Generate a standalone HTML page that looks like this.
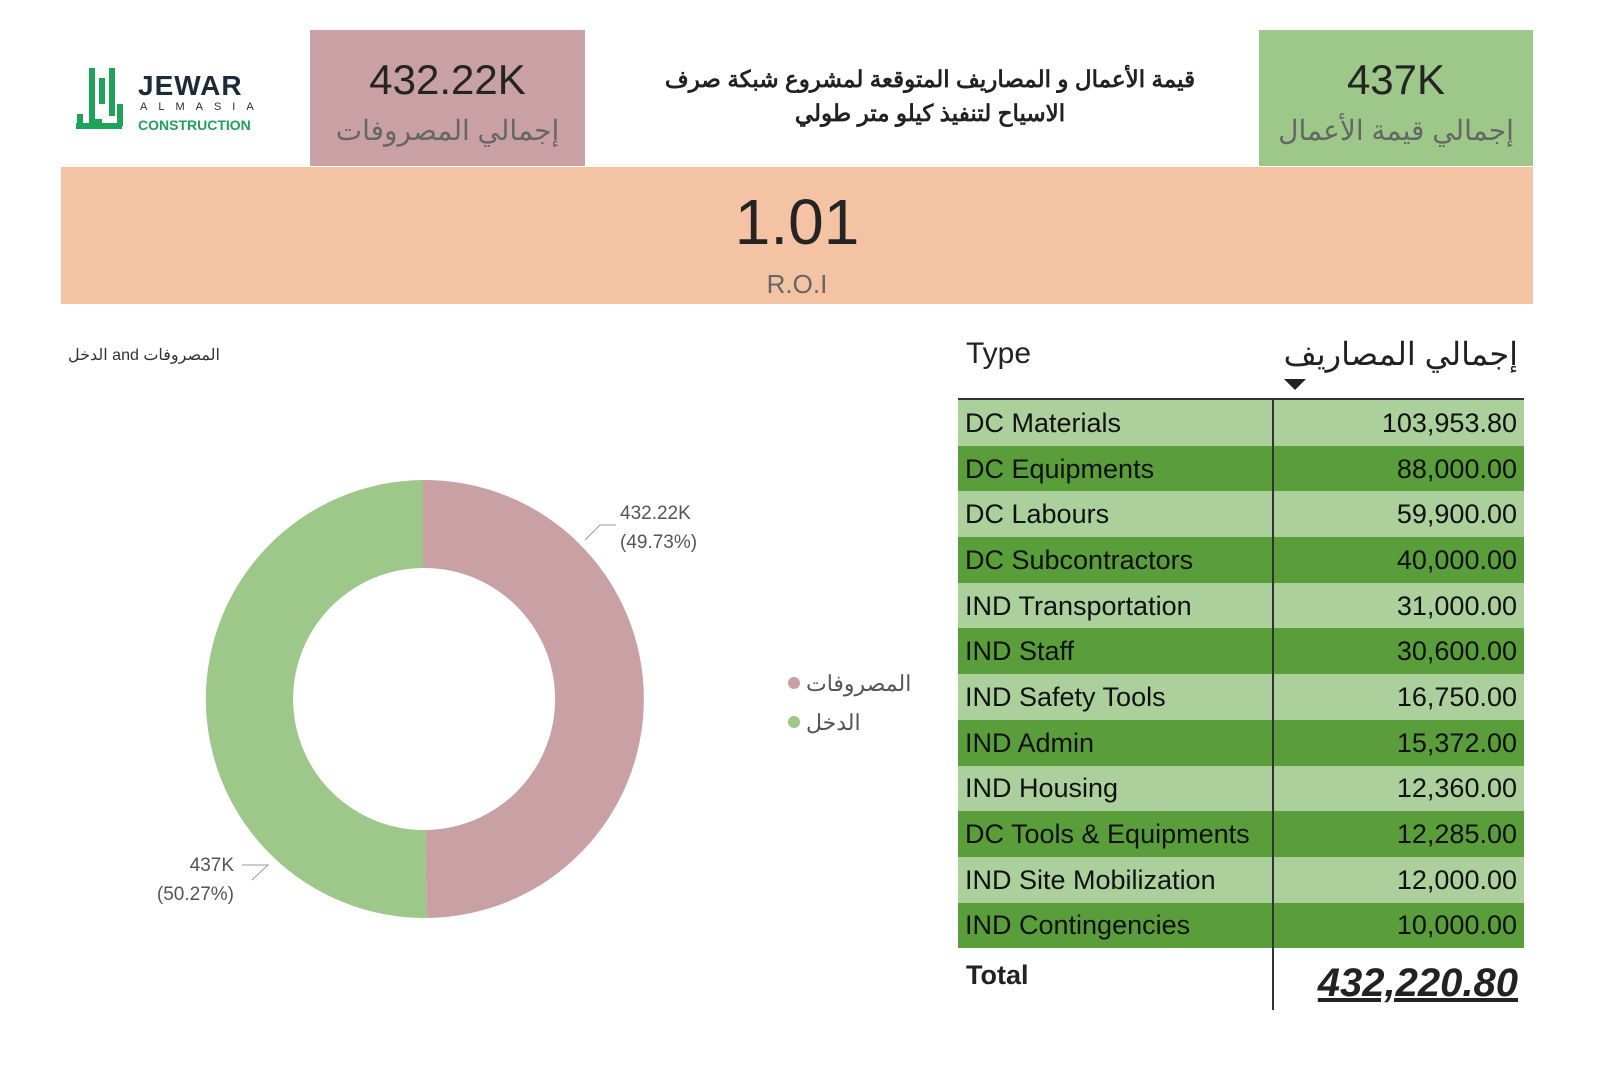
<!DOCTYPE html>
<html><head><meta charset="utf-8"><style>
*{margin:0;padding:0;box-sizing:border-box}
body{width:1600px;height:1080px;background:#fff;position:relative;font-family:"Liberation Sans","Noto Sans CJK SC",sans-serif;overflow:hidden;color:#222}
.abs{position:absolute}
.kpi{position:absolute;text-align:center}
.kpi .v{font-size:42px;color:#252423;position:absolute;width:100%;top:26px}
.kpi .l{font-size:28px;color:#666;position:absolute;width:100%;top:84px}
table{position:absolute;left:958px;top:400px;width:566px;border-collapse:collapse;font-size:27px;line-height:30px}
td{height:45.7px;padding:0 7px;color:#111}
td.n{text-align:right;border-left:2px solid #333}
tr.a td{background:#abd09c}
tr.b td{background:#5a9e3c}
</style></head><body>
<div class="abs" style="left:72px;top:64px;width:54px;height:70px">
<svg width="54" height="70"><path d="M20 4 L20 58 L30 58 M30 14 L30 40 M40 4 L40 52 M4 62 L50 62 M8 50 L8 62 M48 40 L48 62" stroke="#1fa35a" stroke-width="6" fill="none"/></svg></div>
<div class="abs" style="left:138px;top:70px;font-size:28px;font-weight:bold;color:#1d2a3a;letter-spacing:1px">JEWAR</div>
<div class="abs" style="left:140px;top:101px;font-size:11px;color:#1d2a3a;letter-spacing:11px">ALMASIA</div>
<div class="abs" style="left:138px;top:117px;font-size:14px;color:#1fa35a;font-weight:bold">CONSTRUCTION</div>
<div class="kpi" style="left:310px;top:30px;width:275px;height:136px;background:#c9a1a5"><div class="v">432.22K</div><div class="l">إجمالي المصروفات</div></div>
<div class="kpi" style="left:1259px;top:30px;width:274px;height:136px;background:#9dc88a"><div class="v">437K</div><div class="l">إجمالي قيمة الأعمال</div></div>
<div class="abs" style="left:600px;top:62px;width:660px;text-align:center;font-size:23px;font-weight:bold;line-height:34px;direction:rtl">قيمة الأعمال و المصاريف المتوقعة لمشروع شبكة صرف<br>الاسياح لتنفيذ كيلو متر طولي</div>
<div class="abs" style="left:61px;top:167px;width:1472px;height:137px;background:#f4c3a3;text-align:center">
<div style="font-size:64px;color:#252423;margin-top:18px;line-height:74px">1.01</div>
<div style="font-size:26px;color:#666;margin-top:10px">R.O.I</div></div>
<div class="abs" style="left:68px;top:345px;font-size:16px;color:#333">الدخل and المصروفات</div>
<svg class="abs" style="left:0;top:0" width="960" height="1080">
<g transform="translate(-3,-2)">
<path d="M426 482 A219 219 0 0 1 429.7 920 L428.2 832 A131 131 0 0 0 426 570 Z" fill="#c9a1a5"/>
<path d="M429.7 920 A219 219 0 1 1 426 482 L426 570 A131 131 0 1 0 428.2 832 Z" fill="#9dc88a"/>
</g>
<polyline points="585,540 600,525 616,525" fill="none" stroke="#999"/>
<polyline points="252,880 268,865 242,865" fill="none" stroke="#999"/>
<text x="620" y="519" font-size="19" fill="#555" font-family="Liberation Sans">432.22K</text>
<text x="620" y="548" font-size="19" fill="#555" font-family="Liberation Sans">(49.73%)</text>
<text x="234" y="871" font-size="19" fill="#555" text-anchor="end" font-family="Liberation Sans">437K</text>
<text x="234" y="900" font-size="19" fill="#555" text-anchor="end" font-family="Liberation Sans">(50.27%)</text>
<circle cx="794" cy="683" r="6" fill="#c9a1a5"/><circle cx="794" cy="722" r="6" fill="#9dc88a"/>
<text x="806" y="691" font-size="22" fill="#555" font-family="Liberation Sans,Noto Sans CJK SC">المصروفات</text>
<text x="806" y="730" font-size="22" fill="#555" font-family="Liberation Sans,Noto Sans CJK SC">الدخل</text>
</svg>
<div class="abs" style="left:966px;top:337px;font-size:30px">Type</div>
<div class="abs" style="left:1270px;top:335px;width:248px;text-align:right;font-size:32px;direction:rtl">إجمالي المصاريف</div>
<div class="abs" style="left:1284px;top:379px;width:0;height:0;border-left:11px solid transparent;border-right:11px solid transparent;border-top:11px solid #222"></div>
<div class="abs" style="left:958px;top:398px;width:566px;height:2px;background:#333"></div>
<table>
<tr class="a"><td style="width:315px">DC Materials</td><td class="n">103,953.80</td></tr>
<tr class="b"><td>DC Equipments</td><td class="n">88,000.00</td></tr>
<tr class="a"><td>DC Labours</td><td class="n">59,900.00</td></tr>
<tr class="b"><td>DC Subcontractors</td><td class="n">40,000.00</td></tr>
<tr class="a"><td>IND Transportation</td><td class="n">31,000.00</td></tr>
<tr class="b"><td>IND Staff</td><td class="n">30,600.00</td></tr>
<tr class="a"><td>IND Safety Tools</td><td class="n">16,750.00</td></tr>
<tr class="b"><td>IND Admin</td><td class="n">15,372.00</td></tr>
<tr class="a"><td>IND Housing</td><td class="n">12,360.00</td></tr>
<tr class="b"><td>DC Tools &amp; Equipments</td><td class="n">12,285.00</td></tr>
<tr class="a"><td>IND Site Mobilization</td><td class="n">12,000.00</td></tr>
<tr class="b"><td>IND Contingencies</td><td class="n">10,000.00</td></tr>
</table>
<div class="abs" style="left:1272px;top:948px;width:2px;height:62px;background:#333"></div>
<div class="abs" style="left:966px;top:960px;font-size:27px;font-weight:bold">Total</div>
<div class="abs" style="left:1280px;top:961px;width:238px;text-align:right;font-size:40px;font-weight:bold;font-style:italic;text-decoration:underline">432,220.80</div>
</body></html>
